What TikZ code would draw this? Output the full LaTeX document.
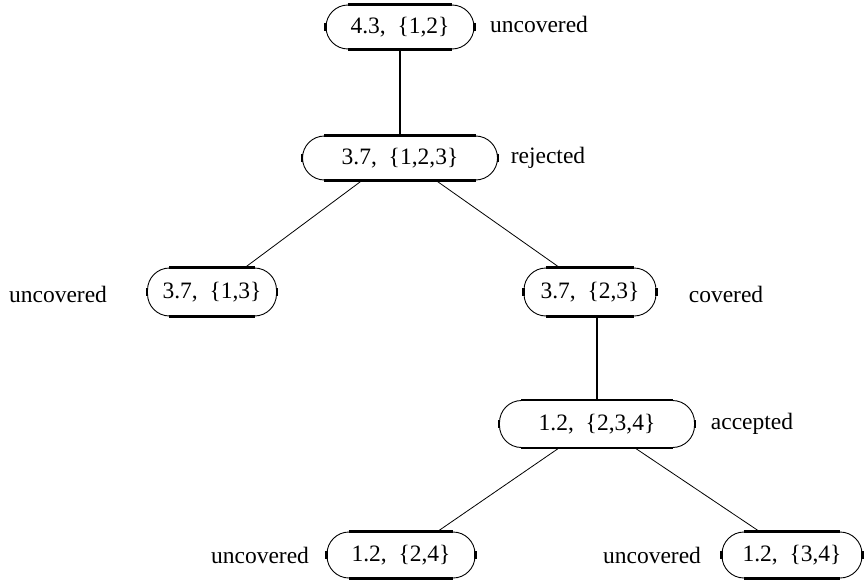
\documentclass[tikz,border=0pt]{standalone}
\usepackage{fontspec}
\setmainfont{Liberation Serif}
\usetikzlibrary{calc}
\begin{document}
\begin{tikzpicture}[x=1pt,y=-1pt,
  tn/.style={draw, line width=0.9pt, rounded corners=22pt, inner sep=0pt, minimum height=44pt, font=\fontsize{23.5}{28}\selectfont},
  lbl/.style={font=\fontsize{23.5}{28}\selectfont, inner sep=0pt},
  thickedge/.style={line width=2.6pt},
  heavy/.style={line width=2pt},
  thin/.style={line width=0.8pt}]
\useasboundingbox (0,0) rectangle (865,586);
\node[tn, minimum width=148pt] (n1) at (400,27) {4.3,\ \ \{1,2\}};
\node[tn, minimum width=195pt] (n2) at (400,158) {3.7,\ \ \{1,2,3\}};
\node[tn, minimum width=129pt, minimum height=48pt] (n3) at (212,292) {3.7,\ \ \{1,3\}};
\node[tn, minimum width=132pt, minimum height=48pt] (n4) at (590,292) {3.7,\ \ \{2,3\}};
\node[tn, minimum width=195pt, minimum height=47pt] (n5) at (597,424) {1.2,\ \ \{2,3,4\}};
\node[tn, minimum width=148pt, minimum height=46pt] (n6) at (401,555) {1.2,\ \ \{2,4\}};
\node[tn, minimum width=140pt, minimum height=46pt] (n7) at (792,555) {1.2,\ \ \{3,4\}};
\foreach \n in {n1,n2,n3,n4,n5,n6,n7}{
  \draw[thickedge] ($(\n.north west)+(22,0)$) -- ($(\n.north east)+(-22,0)$);
  \draw[thickedge] ($(\n.south west)+(22,0)$) -- ($(\n.south east)+(-22,0)$);
  \draw[thickedge] ($(\n.west)+(0,-4)$) -- ($(\n.west)+(0,4)$);
  \draw[thickedge] ($(\n.east)+(0,-4)$) -- ($(\n.east)+(0,4)$);
}
\node[lbl] (l1) at (539,24) {uncovered};
\node[lbl] (l2) at (548,158) {rejected};
\node[lbl] (l3) at (58,294) {uncovered};
\node[lbl] (l4) at (726,294) {covered};
\node[lbl] (l5) at (752,424) {accepted};
\node[lbl] (l6) at (260,555) {uncovered};
\node[lbl] (l7) at (652,555) {uncovered};
\draw[heavy] (n1.south) -- (n2.north);
\draw[thin] ($(n2.south west)+(60,0)$) -- ($(n3.north east)+(-32,0)$);
\draw[thin] ($(n2.south east)+(-62,0)$) -- ($(n4.north west)+(36,0)$);
\draw[heavy] (n4.south -| n5.north) -- (n5.north);
\draw[thin] ($(n5.south west)+(60,0)$) -- ($(n6.north east)+(-38,0)$);
\draw[thin] ($(n5.south east)+(-60,0)$) -- ($(n7.north west)+(38,0)$);
\end{tikzpicture}
\end{document}
